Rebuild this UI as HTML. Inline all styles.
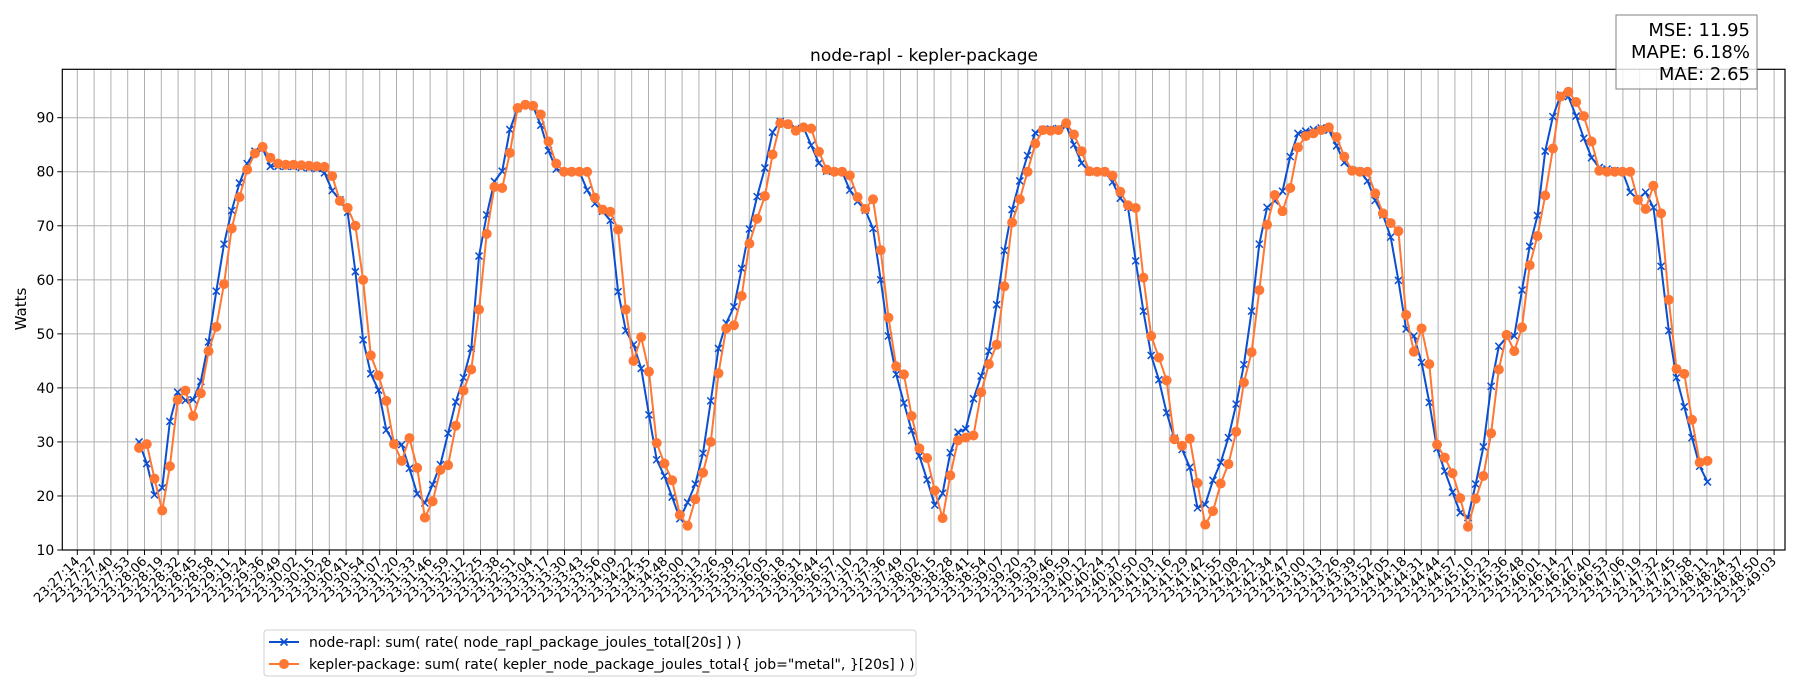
<!DOCTYPE html>
<html><head><meta charset="utf-8"><style>
html,body{margin:0;padding:0;background:#fff;}
svg{display:block;font-family:"DejaVu Sans","Liberation Sans",sans-serif;}
</style></head><body>
<svg id="chart" width="1800" height="700" viewBox="0 0 1800 700" xmlns="http://www.w3.org/2000/svg">
<rect width="1800" height="700" fill="#fff"/>
<g id="grid"></g>
<g id="xticks"></g>
<g id="yticks"></g>
<g id="series"></g>
<rect x="62.3" y="69.3" width="1722.7" height="480.7" fill="none" stroke="#000" stroke-width="1.2"/>
<text x="924" y="61" font-size="17" text-anchor="middle">node-rapl - kepler-package</text>
<text transform="translate(26,309) rotate(-90)" font-size="15" text-anchor="middle">Watts</text>
<g>
<rect x="1616" y="15" width="141" height="74" fill="#fff" fill-opacity="0.8" stroke="#808080" stroke-width="1"/>
<text x="1750" y="36" font-size="18" text-anchor="end">MSE: 11.95</text>
<text x="1750" y="58" font-size="18" text-anchor="end">MAPE: 6.18%</text>
<text x="1750" y="80" font-size="18" text-anchor="end">MAE: 2.65</text>
</g>
<g>
<rect x="264" y="630" width="652" height="46" rx="3" fill="#fff" stroke="#d0d0d0" stroke-width="1"/>
<g>
<line x1="269" y1="642" x2="299" y2="642" stroke="#0b4fd0" stroke-width="2"/>
<path d="M280.5,638.5 L287.5,645.5 M287.5,638.5 L280.5,645.5" stroke="#0b4fd0" stroke-width="1.6"/>
<text x="309" y="647" font-size="14">node-rapl: sum( rate( node_rapl_package_joules_total[20s] ) )</text>
</g>
<g>
<line x1="269" y1="664" x2="299" y2="664" stroke="#ff7733" stroke-width="2"/>
<circle cx="284" cy="664" r="5" fill="#ff7733"/>
<text x="309" y="669" font-size="14">kepler-package: sum( rate( kepler_node_package_joules_total{ job="metal", }[20s] ) )</text>
</g>
</g>
</svg>
<script>
const tickLabels = ["23:27:14","23:27:27","23:27:40","23:27:53","23:28:06","23:28:19","23:28:32","23:28:45","23:28:58","23:29:11","23:29:24","23:29:36","23:29:49","23:30:02","23:30:15","23:30:28","23:30:41","23:30:54","23:31:07","23:31:20","23:31:33","23:31:46","23:31:59","23:32:12","23:32:25","23:32:38","23:32:51","23:33:04","23:33:17","23:33:30","23:33:43","23:33:56","23:34:09","23:34:22","23:34:35","23:34:48","23:35:00","23:35:13","23:35:26","23:35:39","23:35:52","23:36:05","23:36:18","23:36:31","23:36:44","23:36:57","23:37:10","23:37:23","23:37:36","23:37:49","23:38:02","23:38:15","23:38:28","23:38:41","23:38:54","23:39:07","23:39:20","23:39:33","23:39:46","23:39:59","23:40:12","23:40:24","23:40:37","23:40:50","23:41:03","23:41:16","23:41:29","23:41:42","23:41:55","23:42:08","23:42:21","23:42:34","23:42:47","23:43:00","23:43:13","23:43:26","23:43:39","23:43:52","23:44:05","23:44:18","23:44:31","23:44:44","23:44:57","23:45:10","23:45:23","23:45:36","23:45:48","23:46:01","23:46:14","23:46:27","23:46:40","23:46:53","23:47:06","23:47:19","23:47:32","23:47:45","23:47:58","23:48:11","23:48:24","23:48:37","23:48:50","23:49:03"];
const yTicks = [10,20,30,40,50,60,70,80,90];
const tickStepSec = 13.09;
const sampleStartSec = 48.1;
const samplePeriodSec = 6.02;
const nodeRapl = [30,26,20.2,21.5,33.8,39.2,37.7,37.8,41.2,48.5,57.9,66.6,72.8,77.9,81.5,83.8,84.3,81,81,81,81,80.8,80.7,80.6,79.8,76.5,74.8,72.5,61.5,48.9,42.6,39.6,32.2,29.8,29.5,25.1,20.4,18.7,22.1,25.8,31.6,37.4,41.9,47.3,64.4,72,78.2,80.1,87.8,91.7,92.4,92.1,88.6,83.9,80.5,80,80,80,76.6,74.1,72.7,71,57.8,50.6,48,43.6,35,26.7,23.7,19.8,15.8,18.8,22.2,27.9,37.6,47.3,52,55,62.1,69.4,75.4,80.7,87.3,89.3,88.8,88,88.2,84.9,81.6,80.1,80,80,76.6,74.5,72.9,69.5,60,49.6,42.5,37.2,32.1,27.4,23,18.3,20.5,28,31.8,32.4,38,42.2,46.8,55.4,65.4,73,78.3,83,87.2,87.8,87.9,88,88.5,85,81.6,80,80,80,78.1,75.1,73.4,63.5,54.2,46,41.5,35.4,30.7,28.6,25.3,17.8,18.4,22.9,26.2,30.8,37,44.3,54.2,66.6,73.4,74.6,76.4,82.8,87.1,87.5,87.8,88.1,87.7,84.8,81.7,80.3,80.1,78.3,74.7,72,67.9,59.9,50.9,49.6,44.7,37.3,28.8,24.6,20.7,16.9,16,22.2,29.1,40.3,47.7,49.3,49.6,58.1,66.2,71.9,83.8,90.2,94.2,93.9,90.3,86.2,82.6,80.8,80.5,80.2,80,76.2,74.9,76.2,73.4,62.5,50.6,41.9,36.5,30.8,25.5,22.6];
const keplerPkg = [28.9,29.6,23.2,17.3,25.5,37.8,39.5,34.8,39,46.8,51.3,59.2,69.5,75.3,80.4,83.4,84.6,82.6,81.5,81.3,81.3,81.2,81.1,81,80.9,79.2,74.6,73.3,70,60,46,42.3,37.6,29.6,26.5,30.7,25.2,16,19,24.8,25.7,33,39.5,43.4,54.5,68.5,77.2,77,83.5,91.8,92.4,92.2,90.6,85.6,81.5,80,80,80,80,75.2,73,72.6,69.3,54.5,45,49.4,43,29.8,26,22.9,16.5,14.5,19.4,24.3,30,42.7,51,51.6,57,66.7,71.3,75.5,83.2,89,88.8,87.6,88.2,88,83.7,80.4,80,80,79.3,75.3,73.1,74.9,65.5,53,44,42.5,34.8,28.8,27,21,15.9,23.8,30.3,30.8,31.2,39.2,44.4,48,58.8,70.6,74.9,80,85.2,87.7,87.6,87.7,89,86.9,83.8,80.1,80,80,79.3,76.3,73.8,73.3,60.4,49.6,45.6,41.4,30.5,29.3,30.6,22.4,14.7,17.2,22.3,25.9,31.9,41,46.6,58.1,70.2,75.7,72.7,77,84.5,86.6,87.1,87.7,88.2,86.4,82.8,80.2,80,80,76,72.3,70.5,69,53.5,46.7,51,44.4,29.5,27.1,24.2,19.6,14.3,19.5,23.7,31.6,43.4,49.8,46.8,51.2,62.7,68.1,75.6,84.3,93.9,94.8,92.9,90.3,85.6,80.2,80,80,80,80,74.8,73.1,77.4,72.3,56.3,43.5,42.6,34.1,26.2,26.5];

const NS = "http://www.w3.org/2000/svg";
const PL = 62.3, PR = 1785, PT = 69.3, PB = 550;
const X0 = 77.3, XL = 1774.1;
const tMax = (tickLabels.length - 1) * tickStepSec;
function xScale(t){ return X0 + (t / tMax) * (XL - X0); }
function yScale(v){ return PB - (v - 10) * ((PB - 117.7) / 80); }
function mk(tag, attrs, parent){ const e = document.createElementNS(NS, tag); for (const k in attrs) e.setAttribute(k, attrs[k]); parent.appendChild(e); return e; }

const grid = document.getElementById('grid');
const xt = document.getElementById('xticks');
const yt = document.getElementById('yticks');
tickLabels.forEach((lab, i) => {
  const x = xScale(i * tickStepSec);
  const gl = mk('line', {x1:x, x2:x, y1:PT, y2:PB, stroke:'#b0b0b0', 'stroke-width':1}, grid);
  
  
  const tk = mk('line', {x1:x, x2:x, y1:PB, y2:PB+5, stroke:'#000', 'stroke-width':1}, xt);
  
  
  const tx = mk('text', {transform:`translate(${x+3},${PB+12}) rotate(-45)`, 'font-size':13, 'text-anchor':'end'}, xt);
  
  
  tx.textContent = lab;
});
yTicks.forEach(v => {
  const y = yScale(v);
  const gl = mk('line', {x1:PL, x2:PR, y1:y, y2:y, stroke:'#b0b0b0', 'stroke-width':1}, grid);
  
  
  const tk = mk('line', {x1:PL-5, x2:PL, y1:y, y2:y, stroke:'#000', 'stroke-width':1}, yt);
  
  
  const tx = mk('text', {x:PL-8, y:y+5, 'font-size':14, 'text-anchor':'end'}, yt);
  
  
  tx.textContent = v;
});

const sg = document.getElementById('series');
function drawSeries(vals, color, kind, name){
  const g = mk('g', {}, sg);
  
  
  const pts = vals.map((v, i) => [xScale(sampleStartSec + i * samplePeriodSec), yScale(v)]);
  const ln = mk('polyline', {points: pts.map(p => p[0].toFixed(1) + ',' + p[1].toFixed(1)).join(' '), fill:'none', stroke:color, 'stroke-width':2, 'stroke-linejoin':'round'}, g);
  
  
  pts.forEach(p => {
    let m;
    if (kind === 'x') {
      m = mk('path', {d:`M${p[0]-3.5},${p[1]-3.5} L${p[0]+3.5},${p[1]+3.5} M${p[0]+3.5},${p[1]-3.5} L${p[0]-3.5},${p[1]+3.5}`, stroke:color, 'stroke-width':1.5}, g);
    } else {
      m = mk('circle', {cx:p[0], cy:p[1], r:5, fill:color}, g);
    }
    
    
  });
}
drawSeries(nodeRapl, '#0b4fd0', 'x', 'node-rapl');
drawSeries(keplerPkg, '#ff7733', 'o', 'kepler-package');
</script>
</body></html>
